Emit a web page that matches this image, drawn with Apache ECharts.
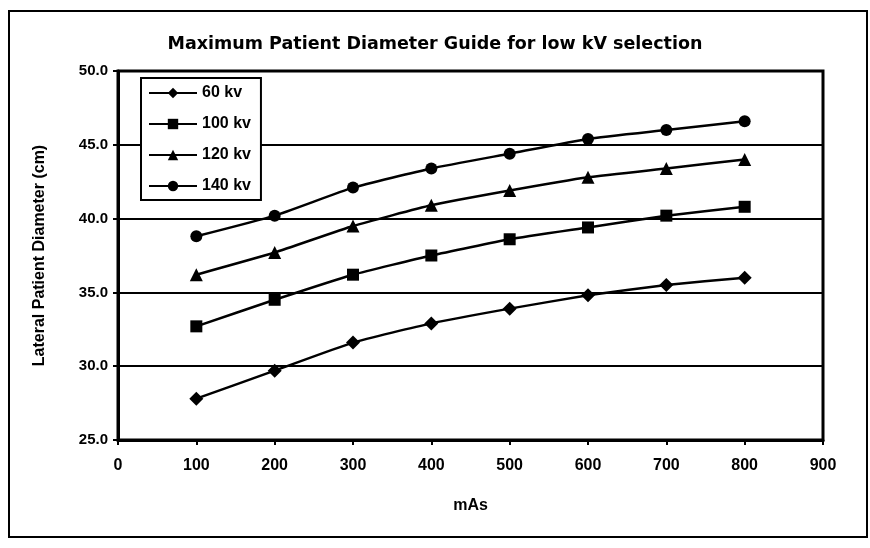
<!DOCTYPE html>
<html>
<head>
<meta charset="utf-8">
<script src="https://cdn.jsdelivr.net/npm/echarts@6/dist/echarts.min.js"></script>
<style>
  html, body { margin: 0; padding: 0; background: #fff; }
  #chart { width: 870px; height: 548px; }
</style>
</head>
<body>
<div id="chart"></div>
<script>
// mAs settings along the x axis
const mAs = [100, 200, 300, 400, 500, 600, 700, 800];

// Maximum lateral patient diameter (cm) for each tube voltage
const kv60  = [27.8, 29.7, 31.6, 32.9, 33.9, 34.8, 35.5, 36.0];
const kv100 = [32.7, 34.5, 36.2, 37.5, 38.6, 39.4, 40.2, 40.8];
const kv120 = [36.2, 37.7, 39.5, 40.9, 41.9, 42.8, 43.4, 44.0];
const kv140 = [38.8, 40.2, 42.1, 43.4, 44.4, 45.4, 46.0, 46.6];

const seriesNames = ['60 kv', '100 kv', '120 kv', '140 kv'];

const FONT = '"Liberation Sans", Arial, sans-serif';
const TITLE_FONT = '"DejaVu Sans", "Liberation Sans", Arial, sans-serif';

function pairs(values) {
  return mAs.map((m, i) => [m, values[i]]);
}

function line(name, values, symbol, size) {
  return {
    name: name,
    type: 'line',
    data: pairs(values),
    symbol: symbol,
    symbolSize: size,
    showSymbol: true,
    smooth: 0.15,
    lineStyle: { color: '#000', width: 2.5 },
    itemStyle: { color: '#000' },
    emphasis: { disabled: true }
  };
}

const chart = echarts.init(document.getElementById('chart'), null, { renderer: 'canvas' });

chart.setOption({
  animation: false,
  backgroundColor: '#fff',
  title: {
    text: 'Maximum Patient Diameter Guide for low kV selection',
    left: 'center',
    top: 30,
    textStyle: { fontFamily: TITLE_FONT, fontSize: 17.5, fontWeight: 'bold', color: '#000' }
  },
  graphic: [{
    type: 'rect',
    shape: { x: 9, y: 11, width: 858, height: 526 },
    style: { fill: 'none', stroke: '#000', lineWidth: 2 },
    silent: true
  }],
  legend: {
    data: seriesNames,
    orient: 'vertical',
    left: 141,
    top: 78,
    itemWidth: 48,
    itemHeight: 13,
    itemGap: 15,
    padding: [7, 10, 6, 7],
    borderColor: '#000',
    borderWidth: 2,
    backgroundColor: '#fff',
    textStyle: { fontFamily: FONT, fontSize: 16, fontWeight: 'bold', color: '#000' }
  },
  grid: {
    left: 118, right: 47, top: 71, bottom: 108,
    show: true,
    borderColor: '#000',
    borderWidth: 3,
    backgroundColor: 'transparent'
  },
  xAxis: {
    type: 'value',
    min: 0, max: 900, interval: 100,
    name: 'mAs',
    nameLocation: 'middle',
    nameGap: 58,
    nameTextStyle: { fontFamily: FONT, fontSize: 16, fontWeight: 'bold', color: '#000' },
    axisLine: { show: true, lineStyle: { color: '#000', width: 3 } },
    axisTick: { show: true, length: 5, lineStyle: { color: '#000', width: 2 } },
    splitLine: { show: false },
    axisLabel: { margin: 18, fontFamily: FONT, fontSize: 16, fontWeight: 'bold', color: '#000' }
  },
  yAxis: {
    type: 'value',
    min: 25, max: 50, interval: 5,
    name: 'Lateral Patient Diameter (cm)',
    nameLocation: 'middle',
    nameRotate: 90,
    nameGap: 70,
    nameTextStyle: { fontFamily: FONT, fontSize: 16, fontWeight: 'bold', color: '#000' },
    axisLine: { show: true, lineStyle: { color: '#000', width: 3 } },
    axisTick: { show: true, length: 5, lineStyle: { color: '#000', width: 2 } },
    splitLine: { show: true, lineStyle: { color: '#000', width: 2 } },
    axisLabel: {
      margin: 10,
      fontFamily: FONT, fontSize: 15, fontWeight: 'bold', color: '#000',
      formatter: v => v.toFixed(1)
    }
  },
  series: [
    line(seriesNames[0], kv60, 'diamond', 14),
    line(seriesNames[1], kv100, 'rect', 12),
    line(seriesNames[2], kv120, 'triangle', 13),
    line(seriesNames[3], kv140, 'circle', 12)
  ]
});
</script>
</body>
</html>
